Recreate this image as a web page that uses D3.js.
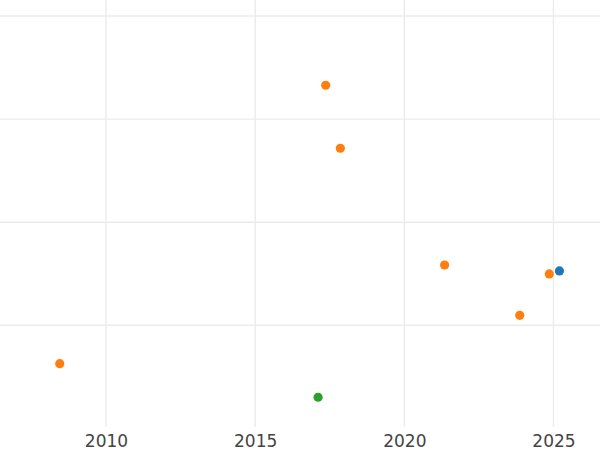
<!DOCTYPE html>
<html>
<head>
<meta charset="utf-8">
<script src="https://cdn.jsdelivr.net/npm/d3@7"></script>
<style>
  html, body { margin: 0; padding: 0; background: #fff; }
  svg { display: block; }
</style>
</head>
<body>
<svg id="chart" width="600" height="450"></svg>
<script>
// Data (x = year, y = value in arbitrary units; y axis has no labels)
const seriesNames = ["A", "B", "C"];
const seriesColors = ["#1f77b4", "#ff7f0e", "#2ca02c"];
const blueX = [2025.20];
const blueY = [1.527];
const orangeX = [2008.45, 2017.365, 2017.855, 2021.35, 2023.87, 2024.86];
const orangeY = [0.628, 3.328, 2.717, 1.585, 1.097, 1.498];
const greenX = [2017.11];
const greenY = [0.302];
const xTicks = [2010, 2015, 2020, 2025];
const yTicks = [1, 2, 3, 4];

const width = 600, height = 450;
const plotBottom = 427;

const svg = d3.select("#chart");
const x = d3.scaleLinear().domain([2006.447, 2026.56]).range([0, width]);
const y = d3.scaleLinear().domain([0.0136, 4.155]).range([plotBottom, 0]);

// Grid
const grid = svg.append("g");
grid.selectAll("line.v").data(xTicks).join("line")
  .attr("x1", d => x(d)).attr("x2", d => x(d))
  .attr("y1", 0).attr("y2", plotBottom)
  .attr("stroke", "#ebebeb").attr("stroke-width", 1.4);
grid.selectAll("line.h").data(yTicks).join("line")
  .attr("x1", 0).attr("x2", width)
  .attr("y1", d => y(d)).attr("y2", d => y(d))
  .attr("stroke", "#ebebeb").attr("stroke-width", 1.4);

// X axis labels
const xAxis = d3.axisBottom(x).tickValues(xTicks).tickFormat(d3.format("d")).tickSize(0).tickPadding(0);
const ax = svg.append("g").attr("transform", `translate(0,${plotBottom})`).call(xAxis);
ax.select(".domain").remove();
ax.selectAll("text")
  .attr("dy", null).attr("y", 20)
  .attr("fill", "#444")
  .style("font-family", "'DejaVu Sans', sans-serif")
  .style("font-size", "17px");

// Points
const series = [
  {xs: blueX, ys: blueY, color: seriesColors[0]},
  {xs: orangeX, ys: orangeY, color: seriesColors[1]},
  {xs: greenX, ys: greenY, color: seriesColors[2]}
];
series.forEach(s => {
  svg.append("g").selectAll("circle")
    .data(s.xs.map((v, i) => [v, s.ys[i]]))
    .join("circle")
    .attr("cx", d => x(d[0]))
    .attr("cy", d => y(d[1]))
    .attr("r", 4.6)
    .attr("fill", s.color);
});
</script>
</body>
</html>
